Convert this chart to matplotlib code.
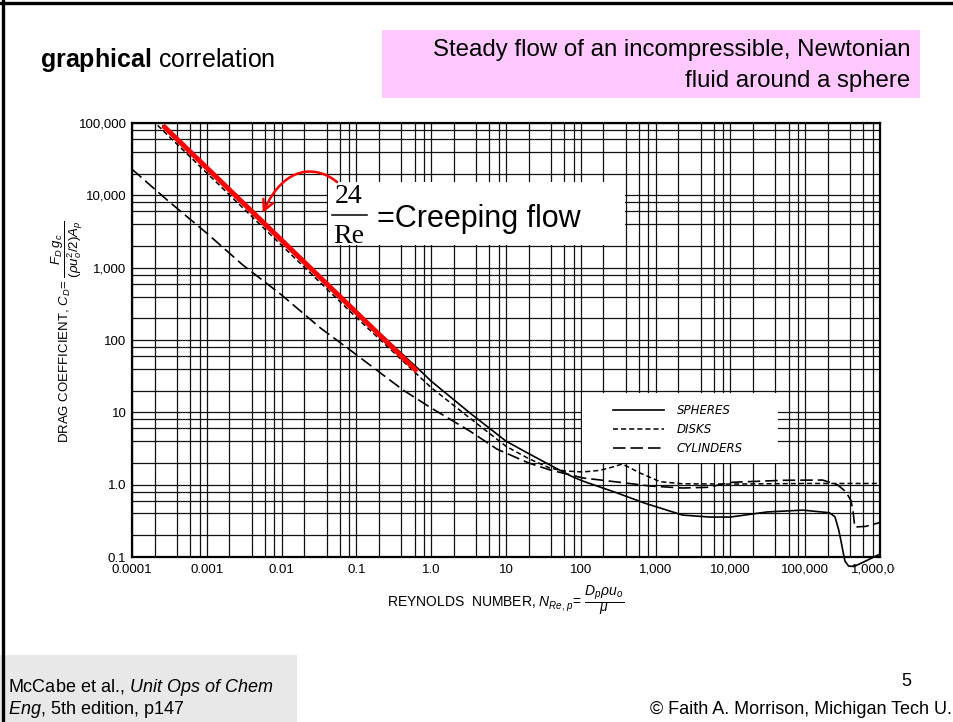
import matplotlib
matplotlib.use("Agg")
import numpy as np
import matplotlib.pyplot as plt
from matplotlib.patches import Rectangle, FancyArrowPatch
from matplotlib.path import Path
from matplotlib.lines import Line2D
from matplotlib.ticker import FixedLocator, NullFormatter
from matplotlib.transforms import Bbox

plt.rcParams.update({
    "font.family": ["Liberation Sans", "DejaVu Sans"],
    "mathtext.fontset": "custom",
    "mathtext.rm": "Liberation Sans",
    "mathtext.it": "Liberation Sans:italic",
    "mathtext.bf": "Liberation Sans:bold",
})

# drag coefficient vs. particle Reynolds number
sphere_re = [2.6e-4, 1e-3, 1e-2, 0.1, 0.7, 1.0, 3.3, 10, 20, 38.7, 76, 107, 305, 700,
             2300, 5300, 1.0e4, 3.1e4, 9.3e4, 2.1e5, 2.5e5, 2.8e5, 3.0e5, 3.2e5, 3.4e5,
             3.8e5, 4.5e5, 6.0e5, 1.0e6]
sphere_cd = [92000, 24000, 2400, 245, 38.5, 27, 9.8, 4.0, 2.7, 1.87, 1.3, 1.12, 0.77, 0.56,
             0.38, 0.357, 0.357, 0.42, 0.445, 0.41, 0.36, 0.24, 0.17, 0.12, 0.088,
             0.075, 0.074, 0.085, 0.11]

disk_re = [2.2e-4, 1e-3, 1e-2, 0.1, 1.0, 3.3, 10, 20, 38.7, 60, 107, 180, 280, 355, 450,
           620, 1150, 2300, 1e4, 1e5, 1e6]
disk_cd = [93000, 20400, 2040, 205, 22, 8.3, 3.4, 2.3, 1.7, 1.55, 1.5, 1.58, 1.78, 1.93, 1.72,
           1.45, 1.1, 1.03, 1.02, 1.04, 1.04]

cyl_re = [1e-4, 3e-4, 1e-3, 3e-3, 1e-2, 3.3e-2, 0.082, 0.42, 1.0, 3.3, 7.6, 20, 38.7, 107,
          305, 840, 2300, 4900, 1.07e4, 5e4, 1.7e5, 2.7e5, 3.5e5, 4.1e5, 4.4e5, 4.6e5,
          6.4e5, 1e6]
cyl_cd = [23000, 8500, 3000, 1100, 420, 147, 73, 20.4, 11.5, 5.5, 3.1, 2.0, 1.6, 1.24,
          1.09, 0.96, 0.9, 0.92, 1.08, 1.15, 1.16, 1.0, 0.8, 0.6, 0.4, 0.26,
          0.265, 0.30]

# Stokes law range drawn over the sphere curve
creeping_re = np.array([2.6e-4, 0.65])
creeping_cd = 24 / creeping_re

x_ticks = [1e-4, 1e-3, 1e-2, 1e-1, 1, 10, 100, 1e3, 1e4, 1e5, 1e6]
x_labels = ["0.0001", "0.001", "0.01", "0.1", "1.0", "10", "100", "1,000",
            "10,000", "100,000", "1,000,000"]
y_ticks = [0.1, 1, 10, 100, 1e3, 1e4, 1e5]
y_labels = ["0.1", "1.0", "10", "100", "1,000", "10,000", "100,000"]

fig = plt.figure(figsize=(9.54, 7.22), dpi=100)
ax = fig.add_axes([0.1384, 0.2285, 0.784, 0.601])
ax.set_xscale("log")
ax.set_yscale("log")
ax.set_xlim(1e-4, 1e6)
ax.set_ylim(0.1, 1e5)

# log paper: decade lines plus 2, 4, 6, 8
minor_x = [m * 10.0 ** k for k in range(-4, 6) for m in (2, 4, 6, 8)]
minor_y = [m * 10.0 ** k for k in range(-1, 5) for m in (2, 4, 6, 8)]
ax.set_xticks(x_ticks, labels=x_labels)
ax.set_yticks(y_ticks, labels=y_labels)
ax.xaxis.set_minor_locator(FixedLocator(minor_x))
ax.yaxis.set_minor_locator(FixedLocator(minor_y))
ax.xaxis.set_minor_formatter(NullFormatter())
ax.yaxis.set_minor_formatter(NullFormatter())
ax.tick_params(which="both", length=0, labelsize=9.5)
ax.tick_params(axis="x", pad=5)
ax.tick_params(axis="y", pad=4)
ax.set_axisbelow(True)
ax.grid(which="both", color="#111111", lw=0.9)
for s in ax.spines.values():
    s.set_linewidth(1.6)

l_sph, = ax.plot(sphere_re, sphere_cd, color="black", lw=1.2, clip_on=False, zorder=3)
l_disk, = ax.plot(disk_re, disk_cd, color="black", lw=1.1, dashes=(3.3, 2.0), zorder=3)
l_cyl, = ax.plot(cyl_re, cyl_cd, color="black", lw=1.2, dashes=(7.5, 3.0), zorder=3)
ax.plot(creeping_re, creeping_cd, color="#ff0000", lw=3.6, solid_capstyle="butt", zorder=4)

# cleared areas of the grid for the legend and the note
ax.add_patch(Rectangle((0.6016, 0.2166), 0.262, 0.161, transform=ax.transAxes,
                       facecolor="white", edgecolor="none", zorder=1))
ax.add_patch(Rectangle((0.262, 0.719), 0.397, 0.145, transform=ax.transAxes,
                       facecolor="white", edgecolor="none", zorder=1))

ax.legend([l_sph, l_disk, l_cyl], ["SPHERES", "DISKS", "CYLINDERS"],
          loc="upper left", bbox_to_anchor=(0.643, 0.3525), frameon=False,
          borderpad=0, borderaxespad=0, handlelength=4.3, handletextpad=1.1,
          labelspacing=0.5, prop={"style": "italic", "size": 8.5, "family": "DejaVu Sans"})

# 24/Re note with curved arrow
ax.text(0.290, 0.8157, "24", transform=ax.transAxes, ha="center", va="baseline",
        fontsize=20, family="Liberation Serif", zorder=5)
ax.text(0.290, 0.7235, "Re", transform=ax.transAxes, ha="center", va="baseline",
        fontsize=20, family="Liberation Serif", zorder=5)
ax.add_line(Line2D([0.2674, 0.3142], [0.788, 0.788], transform=ax.transAxes,
                   color="black", lw=1.1, zorder=5))
ax.text(0.3275, 0.760, "=Creeping flow", transform=ax.transAxes, ha="left", va="baseline",
        fontsize=22, zorder=5)
arc = Path([(0.055, 15300), (0.0307, 25400), (0.0111, 28000), (5.6e-3, 5700)],
           [Path.MOVETO, Path.CURVE4, Path.CURVE4, Path.CURVE4])
ax.add_patch(FancyArrowPatch(path=arc, arrowstyle="->,head_length=0.5,head_width=0.25",
                             mutation_scale=15, color="#ff0000", lw=1.8, zorder=5))

ax.set_xlabel(r"REYNOLDS  NUMBER, $N_{Re,\,p}$= $\dfrac{D_p\rho u_o}{\mu}$",
              fontsize=10, labelpad=5)
ax.set_ylabel(r"DRAG COEFFICIENT, $C_D$= $\dfrac{F_D\,g_c}{(\rho u_o^2/2)A_p}$", fontsize=9.5)
ax.yaxis.set_label_coords(-0.063, 0.52)

last = ax.xaxis.get_majorticklabels()[-1]
last.set_clip_on(True)
last.set_clip_box(Bbox.from_extents(0, 0, 895, 722))

# slide furniture
fig.add_artist(Line2D([0.0, 1.0], [0.9965, 0.9965], transform=fig.transFigure,
                      color="black", lw=2.4))
fig.add_artist(Line2D([0.0035, 0.0035], [0.0, 1.0], transform=fig.transFigure,
                      color="black", lw=2.4))
fig.add_artist(Rectangle((0.4004, 0.8643), 0.564, 0.0942, transform=fig.transFigure,
                         facecolor="#ffc9ff", edgecolor="none"))
fig.add_artist(Rectangle((0.0, 0.0), 0.3113, 0.0928, transform=fig.transFigure,
                         facecolor="#e8e8e8", edgecolor="none"))

fig.text(0.0419, 0.9072, r"$\mathbf{graphical}$ correlation", fontsize=18, va="baseline")
fig.text(0.9539, 0.9224, "Steady flow of an incompressible, Newtonian", fontsize=17.3,
         ha="right", va="baseline")
fig.text(0.9539, 0.8795, "fluid around a sphere", fontsize=17.3, ha="right", va="baseline")
fig.text(0.0084, 0.0416, r"McCabe et al., $\mathit{Unit\ Ops\ of\ Chem}$", fontsize=13,
         va="baseline")
fig.text(0.0084, 0.0111, r"$\mathit{Eng}$, 5th edition, p147", fontsize=13, va="baseline")
fig.text(0.9497, 0.0499, "5", fontsize=13, ha="center", va="baseline")
fig.text(0.9979, 0.0111, "\u00a9 Faith A. Morrison, Michigan Tech U.", fontsize=13,
         ha="right", va="baseline")

fig.savefig("out.png", dpi=100)
